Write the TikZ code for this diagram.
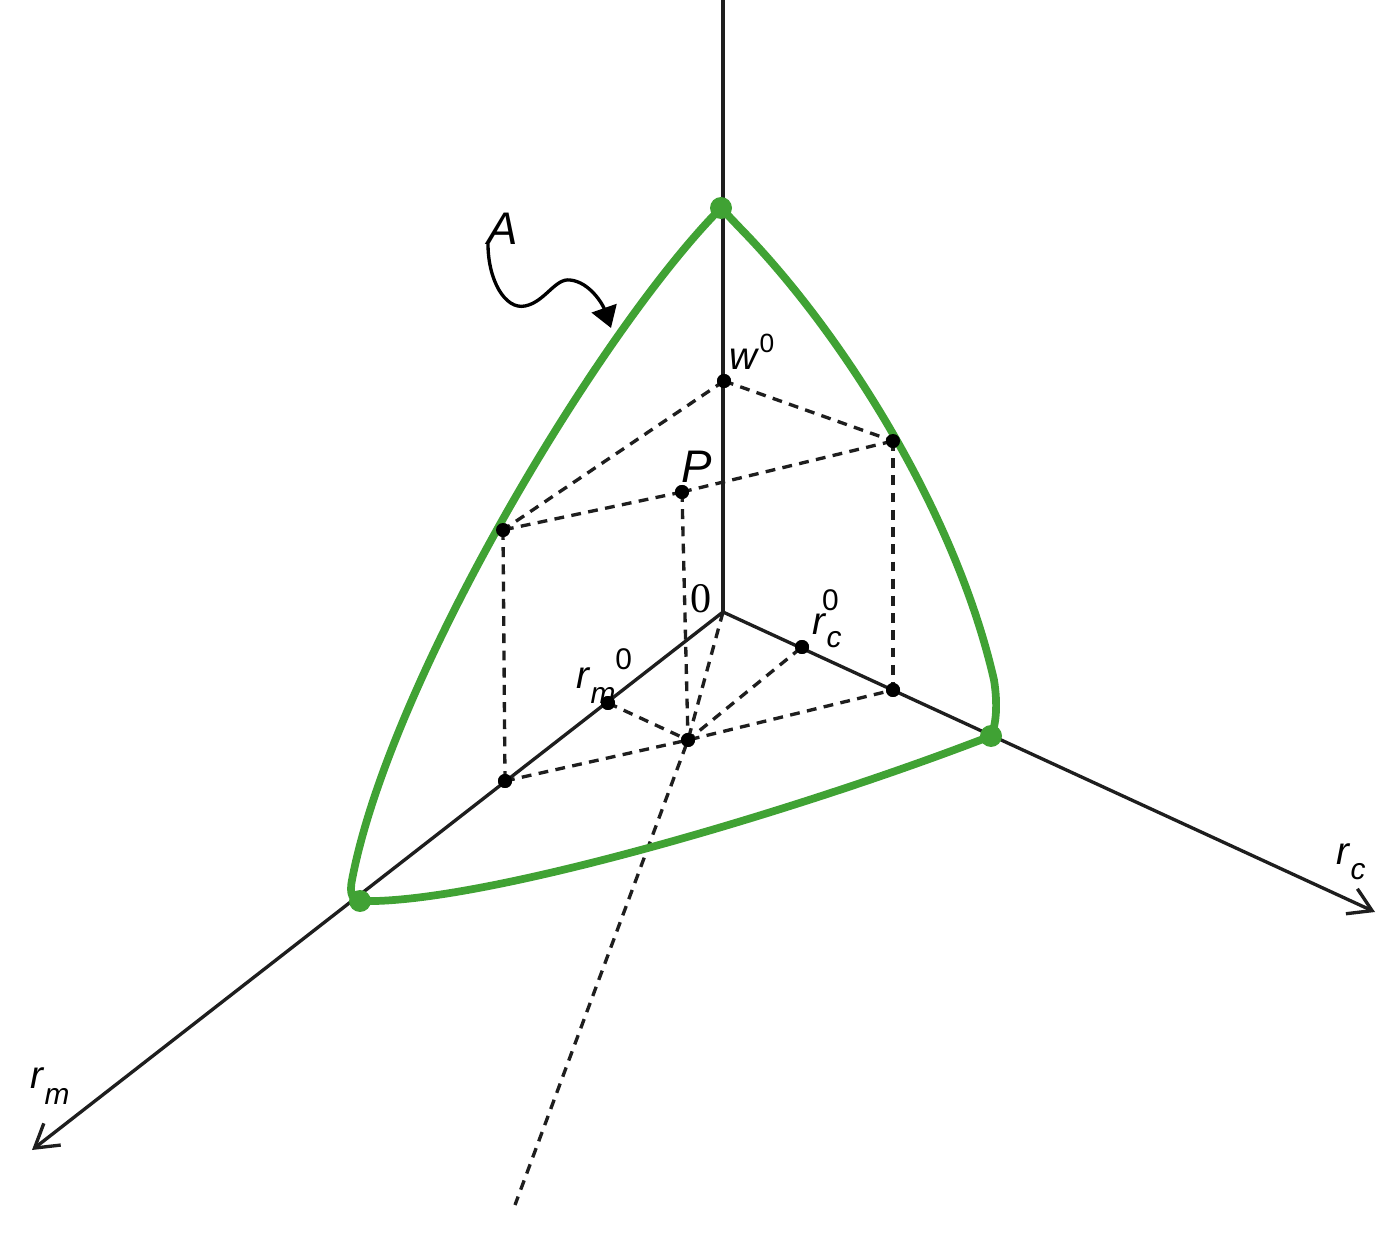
\documentclass[tikz,border=0pt]{standalone}
\usepackage{fontspec}
\setmainfont{Liberation Sans}
\newfontfamily\serifnum{Liberation Serif}
\usetikzlibrary{arrows.meta}
\definecolor{grn}{RGB}{64,162,52}
\definecolor{ink}{RGB}{30,30,30}
\tikzset{
  axis/.style={draw=ink, line width=1.9pt},
  dsh/.style={draw=ink, line width=1.9pt, dash pattern=on 5.6pt off 4.2pt},
  bound/.style={draw=grn, line width=4.4pt, line cap=round, line join=round},
  blk/.style={circle, fill=black, inner sep=0pt, minimum size=0.28cm},
  gdot/.style={circle, fill=grn, inner sep=0pt, minimum size=0.44cm},
  lab/.style={inner sep=0pt, font=\fontsize{22}{24}\selectfont},
  openhead/.style={-{Straight Barb[length=0.45cm,width=0.55cm,line width=1.9pt]}}
}
\begin{document}
\begin{tikzpicture}[x=0.02cm,y=-0.02cm]
\useasboundingbox (0,0) rectangle (1394,1260);
% key points
\coordinate (O) at (723,612);
\coordinate (ztop) at (723,0);
\coordinate (rcend) at (1375,912);
\coordinate (rmend) at (32,1150);
\coordinate (dend) at (515,1205);
% axes
\draw[axis] (O) -- (ztop);
\draw[axis,openhead] (O) -- (rcend);
\draw[axis,openhead] (O) -- (rmend);
% dots
\node[blk] (w0) at (724,381) {};
\node[blk] (P) at (682,492) {};
\node[blk] (wr) at (893,441) {};
\node[blk] (wl) at (503,530) {};
\node[blk] (rc0) at (802,647) {};
\node[blk] (rm0) at (608,703) {};
\node[blk] (rcp) at (893,690) {};
\node[blk] (rmp) at (505,781) {};
\node[blk] (C) at (688,740) {};
% dashed lines
\draw[dsh] (O) -- (C.center) -- (dend);
\draw[dsh] (w0.center) -- (wr.center);
\draw[dsh] (w0.center) -- (wl.center);
\draw[dsh] (P.center) -- (wr.center);
\draw[dsh] (P.center) -- (wl.center);
\draw[dsh] (P.center) -- (C.center);
\draw[dsh] (wr.center) -- (rcp.center);
\draw[dsh] (wl.center) -- (rmp.center);
\draw[dsh] (rmp.center) -- (C.center) -- (rcp.center);
\draw[dsh] (rm0.center) -- (C.center) -- (rc0.center);
% green boundary
\coordinate (T) at (721,208);
\coordinate (R) at (991,736);
\coordinate (L) at (360,901);
\draw[bound] (T) .. controls (600,330) and (390,680) .. (352,880)
  .. controls (349,895) and (353,900) .. (L);
\draw[bound] (T) -- (740,228) .. controls (840,330) and (955,510) .. (994,680)
  .. controls (998,705) and (996,725) .. (R);
\draw[bound] (L) .. controls (480,905) and (800,810) .. (R);
\node[gdot] (gT) at (T) {};
\node[gdot] (gR) at (R) {};
\node[gdot] (gL) at (L) {};
% redraw black dots on top
\foreach \n in {w0,P,wr,wl,rc0,rm0,rcp,rmp,C} {\fill (\n) circle (0.14cm);}
% A label with wavy arrow
\node[lab, font=\fontsize{26}{28}\selectfont\itshape] (A) at (503,229) {A};
\coordinate (Astart) at (488,244);
\draw[line width=1.9pt, -{Triangle[length=0.42cm,width=0.52cm]}] (Astart)
  .. controls (488,280) and (505,310) .. (525,306)
  .. controls (545,302) and (555,278) .. (570,280)
  .. controls (590,282) and (603,305) .. (611,328);
% labels
\node[lab] (lw0) at (752,352) {\textit{w}\raisebox{0.45em}{\fontsize{15}{16}\selectfont 0}};
\node[lab, font=\fontsize{26}{28}\selectfont\itshape] (lP) at (697,467) {P};
\node[lab, font=\fontsize{24}{26}\selectfont\serifnum] (l0) at (701,599) {0};
\node[lab, anchor=west] (lrc0) at (812,619) {\textit{r}\raisebox{-0.35em}{\fontsize{17}{18}\selectfont\textit{c}}\hspace{-0.5em}\raisebox{0.6em}{\fontsize{17}{18}\selectfont 0}};
\node[lab, anchor=west] (lrm0) at (576,676) {\textit{r}\raisebox{-0.4em}{\fontsize{17}{18}\selectfont\textit{m}}\raisebox{0.5em}{\fontsize{17}{18}\selectfont 0}};
\node[lab, anchor=west] (lrc) at (1336,862) {\textit{r}\raisebox{-0.4em}{\fontsize{17}{18}\selectfont\textit{c}}};
\node[lab, anchor=west] (lrm) at (30,1086) {\textit{r}\raisebox{-0.4em}{\fontsize{17}{18}\selectfont\textit{m}}};
\end{tikzpicture}
\end{document}
